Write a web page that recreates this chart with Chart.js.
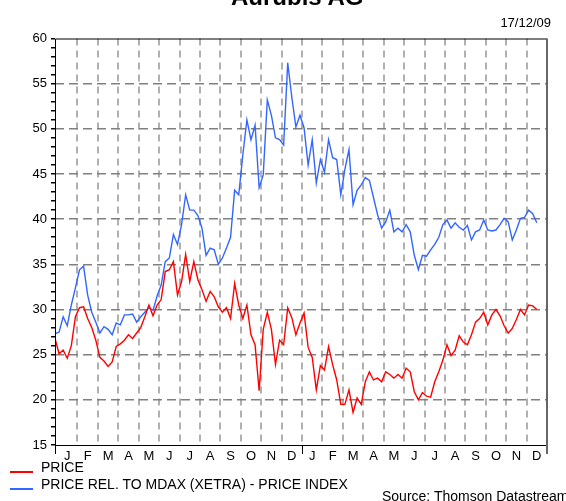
<!DOCTYPE html>
<html>
<head>
<meta charset="utf-8">
<script src="https://cdn.jsdelivr.net/npm/chart.js@4.4.0/dist/chart.umd.min.js"></script>
<style>
  body { margin: 0; background: #fff; }
  #wrap { position: relative; width: 566px; height: 501px; overflow: hidden; font-family: "Liberation Sans", Arial, sans-serif; color: #000; }
  #wrap canvas { position: absolute; left: 0; top: 0; }
  .txt { position: absolute; white-space: nowrap; }
  .swatch { position: absolute; height: 1.5px; width: 23px; }
</style>
</head>
<body>
<div id="wrap">
  <canvas id="chart1" width="566" height="501"></canvas>
  <div class="txt" id="title" style="left:231px; top:-15px; font-size:24px; line-height:24px; font-weight:bold;">Aurubis AG</div>
  <div class="txt" style="right:15px; top:15.5px; font-size:13px; line-height:13px;">17/12/09</div>
  <div class="swatch" style="left:10px; top:471px; background:#ff0000;"></div>
  <div class="txt" style="left:41px; top:459.5px; font-size:14px; line-height:14px;">PRICE</div>
  <div class="swatch" style="left:10px; top:488px; background:#3366ff;"></div>
  <div class="txt" style="left:41px; top:477px; font-size:14px; line-height:14px;">PRICE REL. TO MDAX (XETRA) - PRICE INDEX</div>
  <div class="txt" style="left:382px; top:488.5px; font-size:14px; line-height:14px;">Source: Thomson Datastream</div>
</div>

<script>

// months on the axis, Jan 2008 .. Dec 2009
const monthLabels = ['J','F','M','A','M','J','J','A','S','O','N','D',
                     'J','F','M','A','M','J','J','A','S','O','N','D'];

// series sampled every 0.2 month from the start of the chart
const startMonth = -0.1;
const stepMonth = 0.2;

const price = [
  26.8, 25.1, 25.5, 24.6, 26.0, 29.2, 30.2, 30.3, 29.0, 28.0,
  26.6, 24.7, 24.3, 23.7, 24.2, 25.9, 26.2, 26.6, 27.2, 26.8,
  27.4, 28.0, 29.2, 30.5, 29.3, 30.5, 31.1, 34.2, 34.4, 35.3,
  31.6, 33.1, 36.1, 33.1, 35.3, 33.3, 32.2, 30.9, 32.0, 31.4,
  30.3, 29.7, 30.2, 29.0, 32.9, 30.5, 29.0, 30.5, 27.2, 26.1,
  21.0, 27.8, 29.7, 27.8, 23.9, 26.6, 26.1, 30.2, 29.1, 27.2,
  28.5, 29.6, 25.8, 24.7, 21.1, 23.8, 23.3, 25.9, 23.9, 22.2,
  19.5, 19.5, 21.1, 18.6, 20.2, 19.5, 22.0, 23.1, 22.2, 22.4,
  22.0, 23.1, 22.8, 22.4, 22.8, 22.4, 23.5, 23.1, 20.9, 20.0,
  20.8, 20.4, 20.3, 22.0, 23.1, 24.4, 26.1, 24.9, 25.5, 27.1,
  26.4, 26.1, 27.2, 28.6, 29.0, 29.7, 28.3, 29.4, 30.0, 29.3,
  28.2, 27.4, 27.9, 28.9, 30.0, 29.4, 30.5, 30.4, 30.0
];

const priceRel = [
  27.3, 27.5, 29.2, 28.2, 30.5, 32.4, 34.4, 34.8, 31.6, 29.7,
  28.6, 27.4, 28.1, 27.8, 27.2, 28.5, 28.3, 29.4, 29.4, 29.5,
  28.6, 29.2, 29.7, 30.2, 29.9, 31.5, 32.7, 35.3, 35.7, 38.3,
  37.2, 39.4, 42.7, 41.0, 41.0, 40.4, 39.0, 36.0, 36.8, 36.6,
  35.0, 35.7, 36.8, 38.0, 43.2, 42.7, 47.1, 51.0, 48.8, 50.4,
  43.5, 44.9, 53.2, 51.5, 49.0, 48.8, 48.2, 57.3, 53.5, 50.2,
  51.5, 50.1, 46.0, 48.8, 44.0, 46.6, 45.2, 48.8, 46.8, 46.6,
  42.7, 45.5, 47.7, 41.6, 43.2, 43.8, 44.6, 44.3, 42.4, 40.5,
  39.0, 39.7, 41.0, 38.6, 39.0, 38.6, 39.4, 38.6, 36.0, 34.4,
  36.0, 35.9, 36.6, 37.2, 38.0, 39.4, 39.9, 39.0, 39.6, 39.1,
  38.8, 39.3, 37.7, 38.6, 38.8, 39.9, 38.8, 38.7, 38.8, 39.4,
  40.1, 39.7, 37.7, 38.8, 40.1, 40.2, 41.0, 40.6, 39.6
];

const yMin = 15;
const yMax = 60;
const xMin = -0.1;
const xMax = 24;

function toPoints(values) {
  return values.map(function(v, i){
    return { x: startMonth + i * stepMonth, y: v };
  });
}

/******************************** FRAME *******************************/

// box round the plot plus the long ticks at the year ends
const framePlugin = {
  id: 'frame',
  afterDatasetsDraw: function(chart){
    const ctx = chart.ctx;
    const a = chart.chartArea;
    const xs = chart.scales.x;
    ctx.save();
    ctx.strokeStyle = '#000';
    ctx.lineWidth = 1;
    ctx.beginPath();
    ctx.moveTo(a.left + 0.5, a.bottom + 0.5);
    ctx.lineTo(a.left + 0.5, a.top + 0.5);
    ctx.lineTo(a.right, a.top + 0.5);
    ctx.moveTo(a.left, a.bottom + 0.5);
    ctx.lineTo(a.right, a.bottom + 0.5);
    ctx.stroke();

    ctx.strokeStyle = '#666';
    ctx.lineWidth = 2;
    ctx.beginPath();
    ctx.moveTo(a.right, a.top);
    ctx.lineTo(a.right, a.bottom + 9);
    ctx.stroke();

    ctx.strokeStyle = '#000';
    ctx.lineWidth = 1;
    ctx.beginPath();
    [xMin, 12].forEach(function(v){
      const px = Math.round(xs.getPixelForValue(v)) + 0.5;
      ctx.moveTo(px, a.bottom);
      ctx.lineTo(px, a.bottom + 9);
    });
    ctx.stroke();
    ctx.restore();
  }
};

const config = {
  type: 'line',
  data: {
    datasets: [{
      label: 'PRICE',
      data: toPoints(price),
      borderColor: '#ff0000',
      borderWidth: 1.4,
      pointRadius: 0,
      tension: 0
    }, {
      label: 'PRICE REL. TO MDAX (XETRA) - PRICE INDEX',
      data: toPoints(priceRel),
      borderColor: '#3366ff',
      borderWidth: 1.4,
      pointRadius: 0,
      tension: 0
    }]
  },
  options: {
    responsive: false,
    animation: false,
    devicePixelRatio: 1,
    layout: { padding: { top: 38.5, right: 19, left: 0, bottom: 0 } },
    plugins: {
      legend: { display: false },
      title: { display: false },
      tooltip: { enabled: false }
    },
    scales: {
      x: {
        type: 'linear',
        min: xMin,
        max: xMax,
        afterBuildTicks: function(scale){
          scale.ticks = monthLabels.map(function(m, i){ return { value: i }; });
        },
        afterFit: function(scale){ scale.height = 56; },
        ticks: {
          autoSkip: false,
          maxRotation: 0,
          minRotation: 0,
          labelOffset: 10.2,
          padding: 4,
          color: '#000',
          font: { family: '"Liberation Sans", Arial, sans-serif', size: 13 },
          callback: function(v){ return monthLabels[v]; }
        },
        grid: {
          drawTicks: false,
          lineWidth: 2,
          color: function(c){
            return (c.tick && c.tick.value > 0) ? '#b0b0b0' : 'rgba(0,0,0,0)';
          }
        },
        border: { display: false, dash: [7, 5] }
      },
      y: {
        min: yMin,
        max: yMax,
        afterFit: function(scale){ scale.width = 55; },
        ticks: {
          stepSize: 1,
          autoSkip: false,
          padding: 4,
          color: '#000',
          font: { family: '"Liberation Sans", Arial, sans-serif', size: 13 },
          callback: function(v){ return v % 5 === 0 ? v : ''; }
        },
        grid: {
          tickLength: 4,
          tickColor: '#000',
          lineWidth: 1.5,
          color: function(c){
            const v = c.tick ? c.tick.value : 0;
            return (v % 5 === 0 && v > yMin && v < yMax) ? '#808080' : 'rgba(0,0,0,0)';
          }
        },
        border: { display: false, dash: [9, 5] }
      }
    }
  },
  plugins: [framePlugin]
};

const myChart = new Chart(document.getElementById('chart1'), config);

</script>
</body>
</html>
